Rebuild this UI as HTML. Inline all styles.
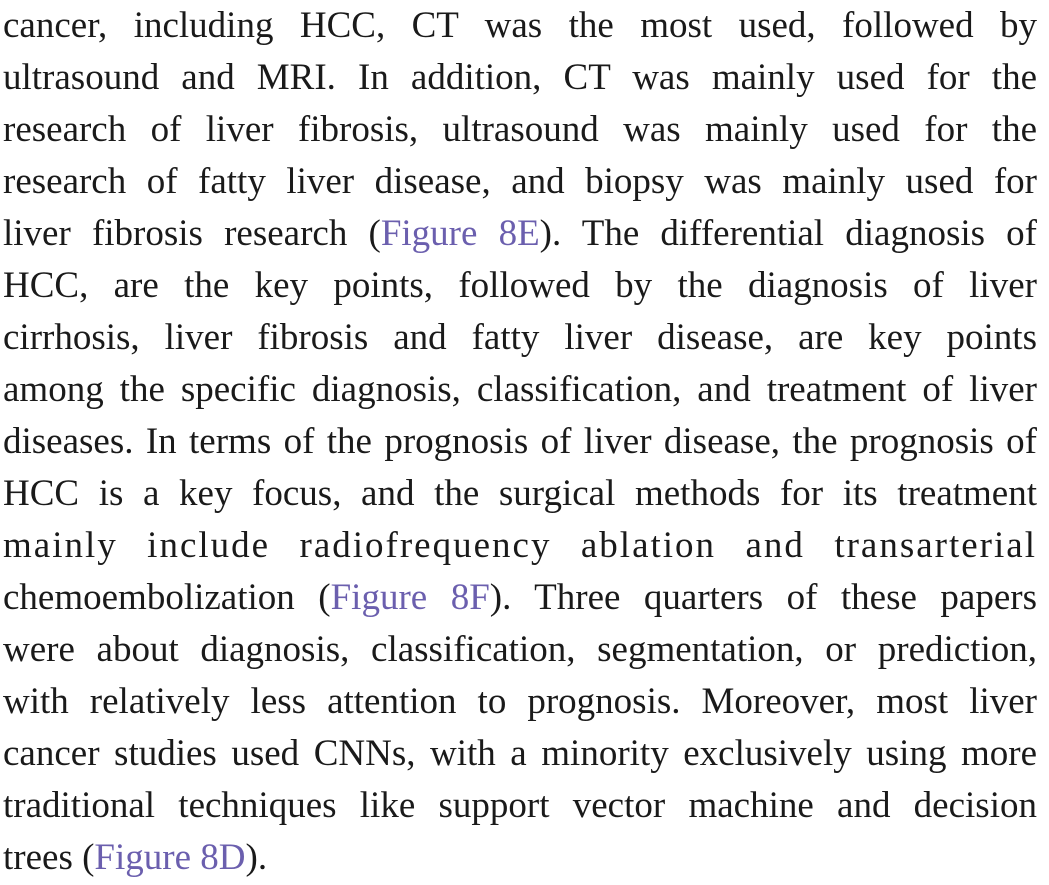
<!DOCTYPE html>
<html><head><meta charset="utf-8"><style>
html,body{margin:0;padding:0;background:#fff;width:1049px;height:885px;overflow:hidden}
#text{position:absolute;left:3px;top:0;width:1034px;font-family:"Liberation Serif",serif;font-size:37px;color:#1a1a1a}
.l{height:52px;line-height:52px;white-space:nowrap;text-align:justify;text-align-last:justify;transform-origin:0 50%}
.last{text-align-last:left}
a{color:#6b5fae;text-decoration:none}
</style></head><body>
<div id="text">
<div class="l">cancer, including HCC, CT was the most used, followed by</div>
<div class="l">ultrasound and MRI. In addition, CT was mainly used for the</div>
<div class="l">research of liver fibrosis, ultrasound was mainly used for the</div>
<div class="l">research of fatty liver disease, and biopsy was mainly used for</div>
<div class="l">liver fibrosis research (<a>Figure 8E</a>). The differential diagnosis of</div>
<div class="l">HCC, are the key points, followed by the diagnosis of liver</div>
<div class="l">cirrhosis, liver fibrosis and fatty liver disease, are key points</div>
<div class="l">among the specific diagnosis, classification, and treatment of liver</div>
<div class="l">diseases. In terms of the prognosis of liver disease, the prognosis of</div>
<div class="l">HCC is a key focus, and the surgical methods for its treatment</div>
<div class="l" style="letter-spacing:2px">mainly include radiofrequency ablation and transarterial</div>
<div class="l">chemoembolization (<a>Figure 8F</a>). Three quarters of these papers</div>
<div class="l">were about diagnosis, classification, segmentation, or prediction,</div>
<div class="l">with relatively less attention to prognosis. Moreover, most liver</div>
<div class="l">cancer studies used CNNs, with a minority exclusively using more</div>
<div class="l">traditional techniques like support vector machine and decision</div>
<div class="l last">trees (<a>Figure 8D</a>).</div>
</div>
<script>
document.querySelectorAll('.l').forEach(function(el){
  var r=document.createRange();r.selectNodeContents(el);
  var w=r.getBoundingClientRect().width;
  if(w>1034){el.style.width=w+'px';el.style.transform='scaleX('+(1034/w)+')';}
});
</script>
</body></html>
